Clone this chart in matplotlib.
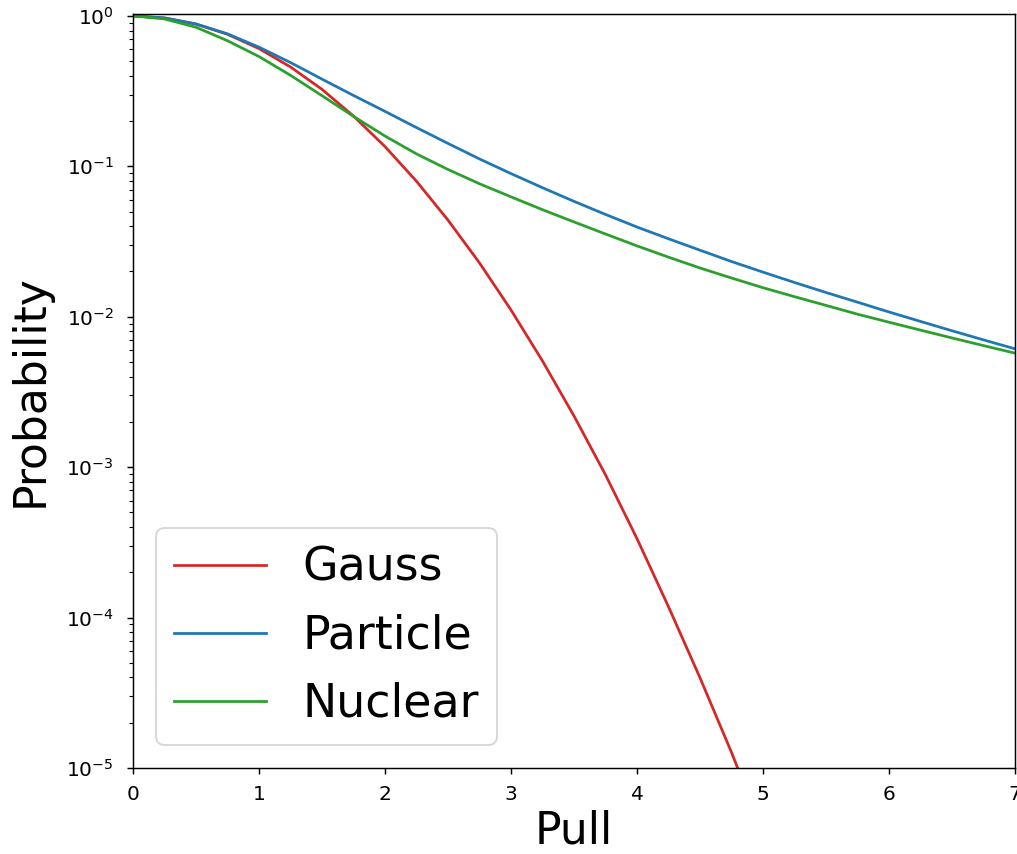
import numpy as np
import matplotlib
matplotlib.use("Agg")
import matplotlib.pyplot as plt

# Pull values shared by all curves
pull = [0.0, 0.25, 0.5, 0.75, 1.0, 1.25, 1.5, 1.75, 2.0, 2.25, 2.5, 2.75,
        3.0, 3.25, 3.5, 3.75, 4.0, 4.25, 4.5, 4.75, 5.0, 5.25, 5.5, 5.75,
        6.0, 6.25, 6.5, 6.75, 7.0]

# probabilities
gauss = [1.0, 0.969, 0.8825, 0.755, 0.6065, 0.458, 0.325, 0.216, 0.1353,
         0.0796, 0.0439, 0.0228, 0.0111, 0.00508, 0.00219, 0.000889,
         0.000335, 0.000118, 3.98e-5, 1.27e-5, 3.73e-6, 1.0e-6, 2.7e-7,
         6.5e-8, 1.5e-8, 3.2e-9, 6.5e-10, 1.2e-10, 2.3e-11]
particle = [1.0, 0.970, 0.885, 0.760, 0.620, 0.490, 0.380, 0.296, 0.232,
            0.181, 0.142, 0.112, 0.0895, 0.0721, 0.0585, 0.0479, 0.0395,
            0.0330, 0.0277, 0.0233, 0.0198, 0.0169, 0.0145, 0.0125,
            0.01076, 0.00931, 0.00807, 0.00702, 0.00612]
nuclear = [1.0, 0.955, 0.841, 0.684, 0.537, 0.403, 0.295, 0.215, 0.159,
           0.121, 0.0953, 0.0766, 0.0627, 0.0515, 0.0427, 0.0355, 0.0296,
           0.0249, 0.0211, 0.0181, 0.0156, 0.0136, 0.0119, 0.0104,
           0.0092, 0.00815, 0.00723, 0.00643, 0.00573]

DPI = 132
fig = plt.figure(figsize=(1017 / DPI, 854 / DPI), dpi=DPI)
ax = fig.add_axes([133 / 1017, 1 - 768 / 854, (1015 - 133) / 1017, (768 - 14) / 854])

ax.plot(pull, gauss, color="tab:red", label="Gauss")
ax.plot(pull, particle, color="tab:blue", label="Particle")
ax.plot(pull, nuclear, color="tab:green", label="Nuclear")

ax.set_yscale("log")
ax.set_xlim(0, 7)
ax.set_ylim(1e-5, 1.03)
ax.tick_params(axis="both", labelsize=11)
ax.tick_params(axis="x", pad=5.5)
ax.tick_params(axis="y", which="major", pad=7)
ax.set_xlabel("Pull", fontsize=24, labelpad=3.5)
ax.set_ylabel("Probability", fontsize=24, labelpad=8)
ax.legend(loc="lower left", fontsize=25)

fig.savefig("out.png", dpi=DPI)
